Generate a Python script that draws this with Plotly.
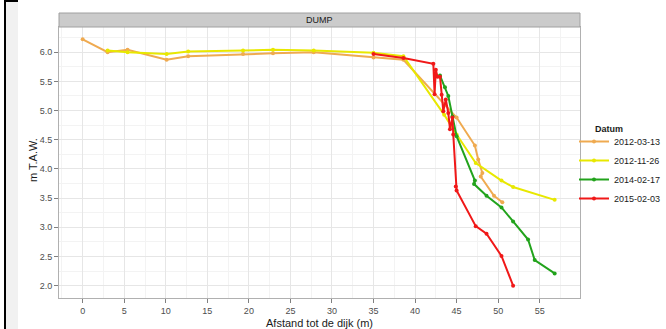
import plotly.graph_objects as go

# ---- data ----
dates = ["2012-03-13", "2012-11-26", "2014-02-17", "2015-02-03"]
colors = ["#EFAA50", "#E8E800", "#22A31C", "#F01818"]

x_2012_03_13 = [0.0, 3.0, 5.4, 10.1, 12.7, 19.3, 22.9, 27.8, 35.0, 38.6, 45.0, 47.2, 47.6, 48.1, 47.9, 49.5, 50.5]
y_2012_03_13 = [6.22, 6.00, 6.04, 5.87, 5.93, 5.97, 5.98, 6.00, 5.91, 5.87, 4.88, 4.40, 4.16, 3.93, 3.87, 3.54, 3.43]

x_2012_11_26 = [3.0, 5.4, 10.1, 12.7, 19.3, 22.9, 27.8, 35.0, 38.6, 43.5, 45.0, 47.3, 50.4, 51.8, 56.8]
y_2012_11_26 = [6.03, 6.00, 5.97, 6.01, 6.03, 6.04, 6.03, 5.99, 5.93, 4.93, 4.59, 4.10, 3.80, 3.69, 3.47]

x_2014_02_17 = [43.0, 43.6, 44.0, 44.5, 45.0, 47.2, 47.1, 48.6, 50.4, 51.8, 53.6, 54.4, 56.8]
y_2014_02_17 = [5.60, 5.40, 5.25, 4.90, 4.56, 3.80, 3.74, 3.54, 3.34, 3.10, 2.79, 2.44, 2.21]

x_2015_02_03 = [35.0, 38.6, 42.2, 42.35, 42.5, 42.7, 43.0, 43.2, 43.4, 43.7, 44.0, 44.2, 44.5, 44.6, 44.9, 45.0, 47.3, 48.6, 50.4, 51.8]
y_2015_02_03 = [5.97, 5.90, 5.80, 5.28, 5.70, 5.58, 5.58, 5.27, 4.99, 5.19, 4.96, 4.68, 4.88, 4.59, 3.70, 3.63, 3.02, 2.89, 2.51, 2.00]

series_x = [x_2012_03_13, x_2012_11_26, x_2014_02_17, x_2015_02_03]
series_y = [y_2012_03_13, y_2012_11_26, y_2014_02_17, y_2015_02_03]

x_ticks = [0, 5, 10, 15, 20, 25, 30, 35, 40, 45, 50, 55]
y_ticks = [2.0, 2.5, 3.0, 3.5, 4.0, 4.5, 5.0, 5.5, 6.0]
panel_title = "DUMP"
x_title = "Afstand tot de dijk (m)"
y_title = "m T.A.W."
legend_title = "Datum"

FONT = "Liberation Sans, Arial, Helvetica, sans-serif"

fig = go.Figure()
for name, c, xs, ys in zip(dates, colors, series_x, series_y):
    fig.add_trace(go.Scatter(
        x=xs, y=ys, name=name, mode="lines+markers",
        line=dict(color=c, width=2),
        marker=dict(color=c, size=4),
    ))

W, H = 666, 329
L, R, T, B = 59, 86, 27, 31
pw = W - L - R
ph = H - T - B

def px_to_paper_x(px):
    return (px - L) / pw

def py_to_paper_y(py):
    return (H - B - py) / ph

shapes = [
    # facet strip
    dict(type="rect", xref="paper", yref="paper", x0=0, x1=1,
         y0=1, y1=py_to_paper_y(13), fillcolor="#cbcbcb",
         line=dict(color="#a0a0a0", width=1), layer="above"),
    # left screenshot edge
    dict(type="rect", xref="paper", yref="paper",
         x0=px_to_paper_x(6), x1=px_to_paper_x(18),
         y0=py_to_paper_y(H), y1=py_to_paper_y(0),
         fillcolor="#f1f1f1", line=dict(width=0), layer="below"),
    dict(type="line", xref="paper", yref="paper",
         x0=px_to_paper_x(5), x1=px_to_paper_x(5),
         y0=py_to_paper_y(H), y1=py_to_paper_y(0),
         line=dict(color="#000000", width=2)),
    dict(type="line", xref="paper", yref="paper",
         x0=px_to_paper_x(5), x1=px_to_paper_x(18),
         y0=py_to_paper_y(1), y1=py_to_paper_y(1),
         line=dict(color="#000000", width=2)),
]

annotations = [
    dict(text=panel_title, xref="paper", yref="paper",
         x=0.5, y=(1 + py_to_paper_y(13)) / 2,
         showarrow=False, font=dict(size=9, color="#1a1a1a"),
         xanchor="center", yanchor="middle"),
    dict(text="<b>" + legend_title + "</b>", xref="paper", yref="paper",
         x=px_to_paper_x(593), y=py_to_paper_y(129),
         showarrow=False, font=dict(size=9, color="#1a1a1a"),
         xanchor="left", yanchor="middle"),
    dict(text=y_title, xref="paper", yref="paper",
         x=px_to_paper_x(33), y=py_to_paper_y(160), textangle=-90,
         showarrow=False, font=dict(size=11, color="#1a1a1a"),
         xanchor="center", yanchor="middle"),
]

fig.update_layout(
    width=W, height=H,
    margin=dict(l=L, r=R, t=T, b=B, pad=0, autoexpand=False),
    paper_bgcolor="white", plot_bgcolor="white",
    font=dict(family=FONT, size=9, color="#4d4d4d"),
    shapes=shapes,
    annotations=annotations,
    showlegend=True,
    legend=dict(
        x=px_to_paper_x(574), y=py_to_paper_y(127), xanchor="left", yanchor="top",
        font=dict(size=9, color="#1a1a1a"), bgcolor="rgba(0,0,0,0)",
        itemwidth=30, tracegroupgap=0,
    ),
)

fig.update_xaxes(
    range=[-2.85, 59.85], tickmode="array", tickvals=x_ticks,
    ticktext=[str(v) for v in x_ticks], automargin=False,
    showgrid=True, gridcolor="#e6e6e6", gridwidth=1,
    minor=dict(dtick=2.5, tick0=0, showgrid=True, gridcolor="#f3f3f3", gridwidth=1),
    ticks="outside", ticklen=4, tickcolor="#808080",
    showline=True, linecolor="#b0b0b0", linewidth=1, mirror=True,
    zeroline=False,
    title=dict(text=x_title, font=dict(size=11, color="#1a1a1a"), standoff=4),
)
fig.update_yaxes(
    range=[1.789, 6.431], tickmode="array", tickvals=y_ticks,
    ticktext=["%.1f" % v for v in y_ticks], automargin=False,
    showgrid=True, gridcolor="#e6e6e6", gridwidth=1,
    minor=dict(dtick=0.25, tick0=0, showgrid=True, gridcolor="#f3f3f3", gridwidth=1),
    ticks="outside", ticklen=4, tickcolor="#808080",
    showline=True, linecolor="#b0b0b0", linewidth=1, mirror=True,
    zeroline=False,
)

fig.write_html(
    "out.html",
    config={"displayModeBar": False},
    post_script="document.body.style.margin='0';document.body.style.overflow='hidden';",
)
